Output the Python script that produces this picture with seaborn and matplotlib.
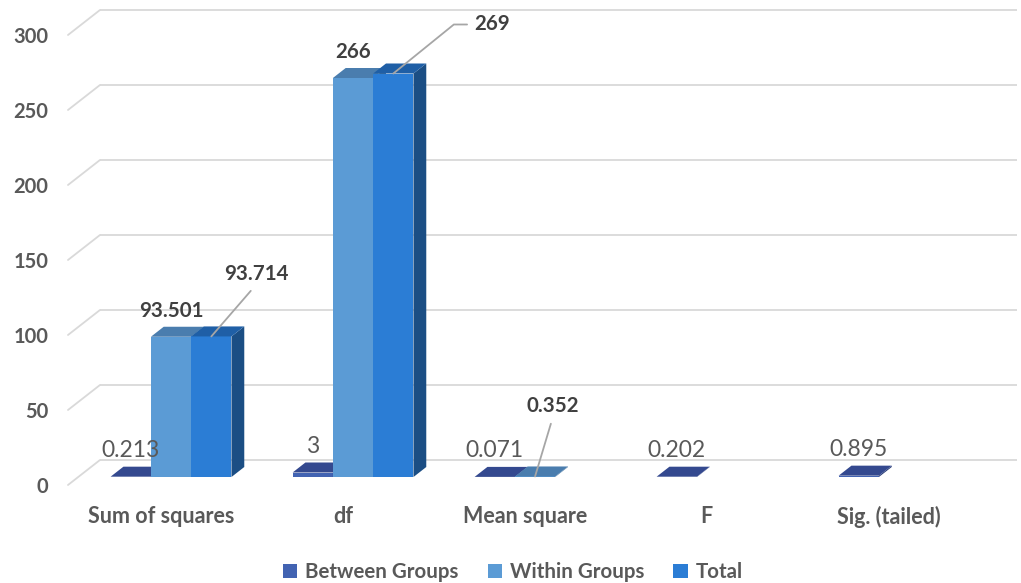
import numpy as np
import pandas as pd
import matplotlib
matplotlib.use("Agg")
import matplotlib.pyplot as plt
from matplotlib.patches import Polygon, Patch
import seaborn as sns

# ANOVA summary values
measures = ["Sum of squares", "df", "Mean square", "F", "Sig. (tailed)"]
series = ["Between Groups", "Within Groups", "Total"]
between_groups = [0.213, 3, 0.071, 0.202, 0.895]
within_groups = [93.501, 266, 0.352, np.nan, np.nan]
total = [93.714, 269, np.nan, np.nan, np.nan]
y_ticks = [0, 50, 100, 150, 200, 250, 300]

# face colours per series: front, top, right side
front_colors = ["#4263B2", "#5B9BD5", "#2B7DD5"]
top_colors = ["#34498F", "#4A7DAE", "#1F5FA6"]
side_colors = ["#2A3D78", "#3F6E9A", "#1B4E84"]
label_bold = [False, True, True]

sns.set_theme(style="white")
plt.rcParams["font.family"] = ["Lato", "DejaVu Sans"]

long = pd.DataFrame({
    "measure": measures * 3,
    "series": np.repeat(series, len(measures)),
    "value": between_groups + within_groups + total,
}).dropna()

W_PX, H_PX = 1021, 583
fig = plt.figure(figsize=(W_PX / 100, H_PX / 100), dpi=100)
XLIM = (-0.62, 4.62)
YLIM = (-10, 316)
ax = fig.add_axes([58.2 / W_PX, 91 / H_PX, 953.7 / W_PX, 489 / H_PX])

sns.barplot(data=long, x="measure", y="value", hue="series",
            order=measures, hue_order=series, palette=front_colors,
            saturation=1, width=0.664, errorbar=None, linewidth=0,
            legend=False, ax=ax)
ax.set_xlim(*XLIM)
ax.set_ylim(*YLIM)

# pixel -> data scale factors for the oblique depth direction
px_x = (XLIM[1] - XLIM[0]) / 953.7
px_y = (YLIM[1] - YLIM[0]) / 489
DEPTH_X, DEPTH_Y = 32 * px_x, 25 * px_y       # full floor depth
FRONT, BACK, BAR = -0.32, 0.68, 0.40         # planes relative to the bars

# back wall gridlines with their oblique left edge
wall_left, wall_right = -0.51, 4.53
for v in y_ticks:
    ax.plot([wall_left + BACK * DEPTH_X, wall_right + BACK * DEPTH_X],
            [v + BACK * DEPTH_Y] * 2, color="#D9D9D9", lw=1.3,
            zorder=0, clip_on=False, solid_capstyle="butt")
    ax.plot([wall_left + FRONT * DEPTH_X, wall_left + BACK * DEPTH_X],
            [v + FRONT * DEPTH_Y, v + BACK * DEPTH_Y], color="#D9D9D9",
            lw=1.3, zorder=0, clip_on=False)

# extrude each bar: top and right faces
bdx, bdy = BAR * DEPTH_X, BAR * DEPTH_Y
for k, cont in enumerate(ax.containers):
    for bar in cont:
        h = bar.get_height()
        if not np.isfinite(h):
            continue
        x0 = bar.get_x()
        x1 = x0 + bar.get_width()
        bar.set_zorder(2 + k)
        side = Polygon([(x1, 0), (x1, h), (x1 + bdx, h + bdy), (x1 + bdx, bdy)],
                       closed=True, facecolor=side_colors[k], lw=0, zorder=2 + k)
        top = Polygon([(x0, h), (x1, h), (x1 + bdx, h + bdy), (x0 + bdx, h + bdy)],
                      closed=True, facecolor=top_colors[k], lw=0, zorder=2.1 + k)
        ax.add_patch(side)
        ax.add_patch(top)

# value labels; some use leader lines
leaders = {
    ("Total", "Sum of squares"): ((45, 62), "arc3"),
    ("Total", "df"): ((99, 49), "angle,angleA=0,angleB=39,rad=0"),
    ("Within Groups", "Mean square"): ((18, 70), "arc3"),
}
values = [between_groups, within_groups, total]
for k, cont in enumerate(ax.containers):
    vals = [v for v in values[k] if np.isfinite(v)]
    bars = [b for b in cont if np.isfinite(b.get_height())]
    names = [m for m, v in zip(measures, values[k]) if np.isfinite(v)]
    for bar, v, name in zip(bars, vals, names):
        xc = bar.get_x() + bar.get_width() / 2
        h = bar.get_height()
        txt = f"{v:g}"
        if label_bold[k]:
            weight, color, size = "bold", "#404040", 14.8
        else:
            weight, color, size = "normal", "#595959", 16.5
        key = (series[k], name)
        if key in leaders:
            (ox, oy), conn = leaders[key]
            relpos = (0.5, 0.5) if conn.startswith("angle") else (0.5, 0.0)
            ax.annotate(txt, xy=(xc, h), xytext=(ox, oy),
                        textcoords="offset pixels", ha="center", va="center",
                        fontsize=size, fontweight=weight, color=color, zorder=10,
                        arrowprops=dict(arrowstyle="-", color="#A6A6A6", lw=1.3,
                                        connectionstyle=conn, relpos=relpos,
                                        shrinkA=3, shrinkB=0))
        else:
            ax.annotate(txt, xy=(xc, h), xytext=(0, 26),
                        textcoords="offset pixels", ha="center", va="center",
                        fontsize=size, fontweight=weight, color=color, zorder=10)

# axis labels sit on the front plane of the floor
ax.set_yticks([v + FRONT * DEPTH_Y for v in y_ticks],
              labels=[str(v) for v in y_ticks])
ax.set_xticks([i + FRONT * DEPTH_X for i in range(len(measures))],
              labels=measures)
ax.tick_params(axis="y", length=0, pad=7, labelsize=14.5, labelcolor="#595959")
ax.tick_params(axis="x", length=0, pad=10, labelsize=15.5, labelcolor="#595959")
for lab in ax.get_xticklabels() + ax.get_yticklabels():
    lab.set_fontweight("bold")
ax.set_xlabel("")
ax.set_ylabel("")
sns.despine(ax=ax, left=True, bottom=True)
ax.set_facecolor("none")

handles = [Patch(facecolor=c, edgecolor="none") for c in front_colors]
fig.legend(handles, series, loc="center", bbox_to_anchor=(513 / W_PX, 11 / H_PX),
           ncol=3, frameon=False, handlelength=0.7, handleheight=0.7,
           handletextpad=0.4, columnspacing=1.4,
           prop={"weight": "bold", "size": 14.8}, labelcolor="#595959")

fig.savefig("out.png", dpi=100)
